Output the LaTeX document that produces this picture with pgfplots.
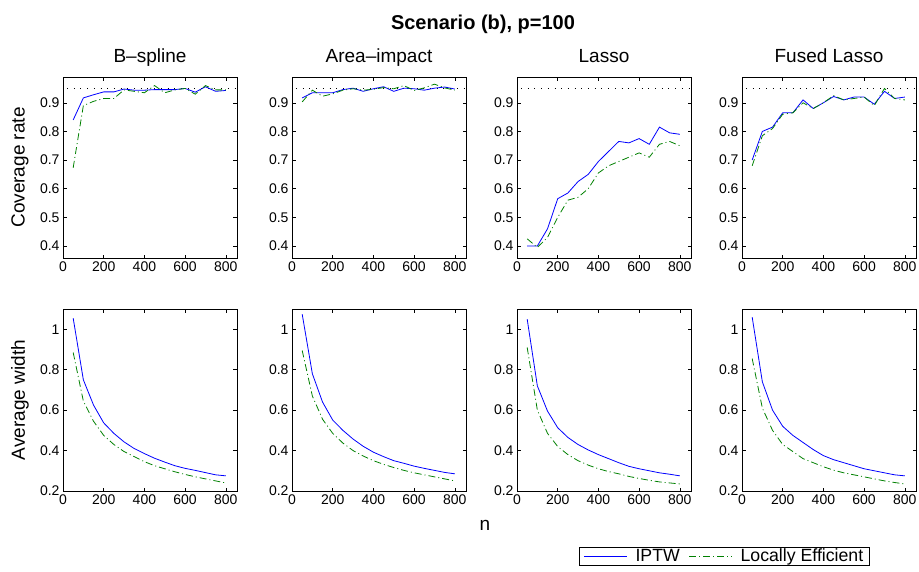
\documentclass[border=0pt]{standalone}
\usepackage{pgfplots}
\pgfplotsset{compat=1.18}
\usepackage{pgfplotstable}
\usepackage{fontspec}
\setmainfont{Liberation Sans}
\definecolor{mgreen}{rgb}{0,0.5,0}

\pgfplotstableread{
n iptw le
50 0.840 0.673
100 0.917 0.890
150 0.928 0.905
200 0.938 0.915
250 0.938 0.915
300 0.948 0.945
350 0.944 0.940
400 0.944 0.935
450 0.946 0.960
500 0.946 0.935
550 0.946 0.945
600 0.950 0.950
650 0.937 0.930
700 0.956 0.960
750 0.940 0.945
800 0.943 0.945
}\bstop
\pgfplotstableread{
n iptw le
50 0.917 0.903
100 0.935 0.944
150 0.935 0.923
200 0.935 0.931
250 0.946 0.944
300 0.951 0.949
350 0.940 0.944
400 0.949 0.947
450 0.956 0.953
500 0.940 0.949
550 0.951 0.960
600 0.949 0.943
650 0.944 0.952
700 0.951 0.965
750 0.955 0.952
800 0.948 0.944
}\artop
\pgfplotstableread{
n iptw le
50 0.400 0.425
100 0.400 0.395
150 0.460 0.430
200 0.565 0.500
250 0.585 0.560
300 0.625 0.570
350 0.650 0.600
400 0.695 0.655
450 0.730 0.680
500 0.765 0.695
550 0.760 0.710
600 0.775 0.725
650 0.755 0.710
700 0.815 0.755
750 0.795 0.765
800 0.790 0.750
}\latop
\pgfplotstableread{
n iptw le
50 0.700 0.680
100 0.800 0.785
150 0.815 0.810
200 0.865 0.860
250 0.865 0.865
300 0.910 0.900
350 0.880 0.880
400 0.900 0.900
450 0.922 0.925
500 0.910 0.910
550 0.920 0.915
600 0.920 0.920
650 0.895 0.890
700 0.940 0.950
750 0.915 0.915
800 0.920 0.910
}\fltop
\pgfplotstableread{
n iptw le
50 1.055 0.885
100 0.750 0.645
150 0.625 0.545
200 0.537 0.475
250 0.485 0.430
300 0.443 0.395
350 0.410 0.370
400 0.385 0.345
450 0.362 0.325
500 0.343 0.310
550 0.325 0.295
600 0.312 0.282
650 0.302 0.270
700 0.291 0.260
750 0.280 0.250
800 0.275 0.240
}\bsbot
\pgfplotstableread{
n iptw le
50 1.075 0.895
100 0.780 0.670
150 0.640 0.555
200 0.551 0.485
250 0.500 0.437
300 0.457 0.400
350 0.421 0.373
400 0.392 0.350
450 0.370 0.332
500 0.350 0.316
550 0.337 0.302
600 0.323 0.290
650 0.312 0.280
700 0.302 0.270
750 0.292 0.260
800 0.285 0.250
}\arbot
\pgfplotstableread{
n iptw le
50 1.050 0.910
100 0.720 0.600
150 0.595 0.485
200 0.513 0.420
250 0.465 0.380
300 0.430 0.350
350 0.403 0.328
400 0.380 0.310
450 0.360 0.296
500 0.340 0.285
550 0.322 0.272
600 0.310 0.262
650 0.300 0.253
700 0.290 0.245
750 0.283 0.240
800 0.275 0.235
}\labot
\pgfplotstableread{
n iptw le
50 1.060 0.855
100 0.740 0.610
150 0.600 0.500
200 0.520 0.430
250 0.475 0.395
300 0.440 0.360
350 0.405 0.340
400 0.375 0.320
450 0.355 0.303
500 0.340 0.290
550 0.325 0.280
600 0.310 0.270
650 0.300 0.260
700 0.290 0.250
750 0.280 0.242
800 0.275 0.235
}\flbot

\pgfplotsset{
  panel/.style={scale only axis, width=174pt, xmin=0, xmax=855,
    xtick={0,200,400,600,800}, tick align=inside, xtick pos=both, ytick pos=both,
    major tick length=3.5pt, tick style={black, line width=0.5pt},
    axis line style={line width=0.7pt},
    tick label style={font=\fontsize{14}{16}\selectfont},
    /pgf/number format/assume math mode=true,
    title style={font=\fontsize{19}{21}\selectfont, at={(0.5,1)}, anchor=base, yshift=8.7pt},
    ylabel style={font=\fontsize{19}{21}\selectfont, at={(axis description cs:-0.247,0.5)}, anchor=center},
  },
  top/.style={panel, height=181pt, ymin=0.358, ymax=0.99, ytick={0.4,0.5,0.6,0.7,0.8,0.9}},
  bot/.style={panel, height=182pt, ymin=0.2, ymax=1.1, ytick={0.2,0.4,0.6,0.8,1}},
  iptw/.style={blue, line width=0.8pt, no marks},
  le/.style={mgreen, line width=0.8pt, no marks, dash pattern=on 7pt off 3pt on 1pt off 3pt},
  ref/.style={black, line width=0.6pt, dash pattern=on 0.7pt off 6pt, no marks, forget plot},
}

\begin{document}
\begin{tikzpicture}
\path[use as bounding box] (0,0) rectangle (919pt,-571pt);
\node[font=\bfseries\fontsize{20}{22}\selectfont, anchor=base] at (483pt,-29.3pt) {Scenario (b), p=100};

% top row
\begin{axis}[top, at={(63pt,-258pt)}, anchor=south west, title={B\textendash spline}, ylabel={Coverage rate}]
\addplot[ref] coordinates {(20,0.95) (850,0.95)};
\addplot[iptw] table[x=n,y=iptw] {\bstop};
\addplot[le] table[x=n,y=le] {\bstop};
\end{axis}
\begin{axis}[top, at={(292pt,-258pt)}, anchor=south west, title={Area\textendash impact}]
\addplot[ref] coordinates {(20,0.95) (850,0.95)};
\addplot[iptw] table[x=n,y=iptw] {\artop};
\addplot[le] table[x=n,y=le] {\artop};
\end{axis}
\begin{axis}[top, at={(517pt,-258pt)}, anchor=south west, title={Lasso}]
\addplot[ref] coordinates {(20,0.95) (850,0.95)};
\addplot[iptw] table[x=n,y=iptw] {\latop};
\addplot[le] table[x=n,y=le] {\latop};
\end{axis}
\begin{axis}[top, at={(742pt,-258pt)}, anchor=south west, title={Fused Lasso}]
\addplot[ref] coordinates {(20,0.95) (850,0.95)};
\addplot[iptw] table[x=n,y=iptw] {\fltop};
\addplot[le] table[x=n,y=le] {\fltop};
\end{axis}

% bottom row
\begin{axis}[bot, at={(63pt,-491pt)}, anchor=south west, ylabel={Average width}]
\addplot[iptw] table[x=n,y=iptw] {\bsbot};
\addplot[le] table[x=n,y=le] {\bsbot};
\end{axis}
\begin{axis}[bot, at={(292pt,-491pt)}, anchor=south west]
\addplot[iptw] table[x=n,y=iptw] {\arbot};
\addplot[le] table[x=n,y=le] {\arbot};
\end{axis}
\begin{axis}[bot, at={(517pt,-491pt)}, anchor=south west]
\addplot[iptw] table[x=n,y=iptw] {\labot};
\addplot[le] table[x=n,y=le] {\labot};
\end{axis}
\begin{axis}[bot, at={(742pt,-491pt)}, anchor=south west,
  legend columns=2,
  legend style={at={(axis description cs:-0.1006,-0.357)}, anchor=center, draw=black, line width=0.6pt,
    font=\fontsize{17.7}{19}\selectfont, inner xsep=4pt, inner ysep=0pt,
    /tikz/every even column/.append style={column sep=7pt}},
  legend image code/.code={\draw[#1, line width=0.8pt] (0pt,0pt) -- (43pt,0pt); \path (49pt,0pt);}]
\addplot[iptw] table[x=n,y=iptw] {\flbot};
\addlegendentry{IPTW}
\addplot[le] table[x=n,y=le] {\flbot};
\addlegendentry{Locally Efficient}
\end{axis}

\node[font=\fontsize{19}{21}\selectfont, anchor=base] at (485pt,-530pt) {n};
\end{tikzpicture}
\end{document}
